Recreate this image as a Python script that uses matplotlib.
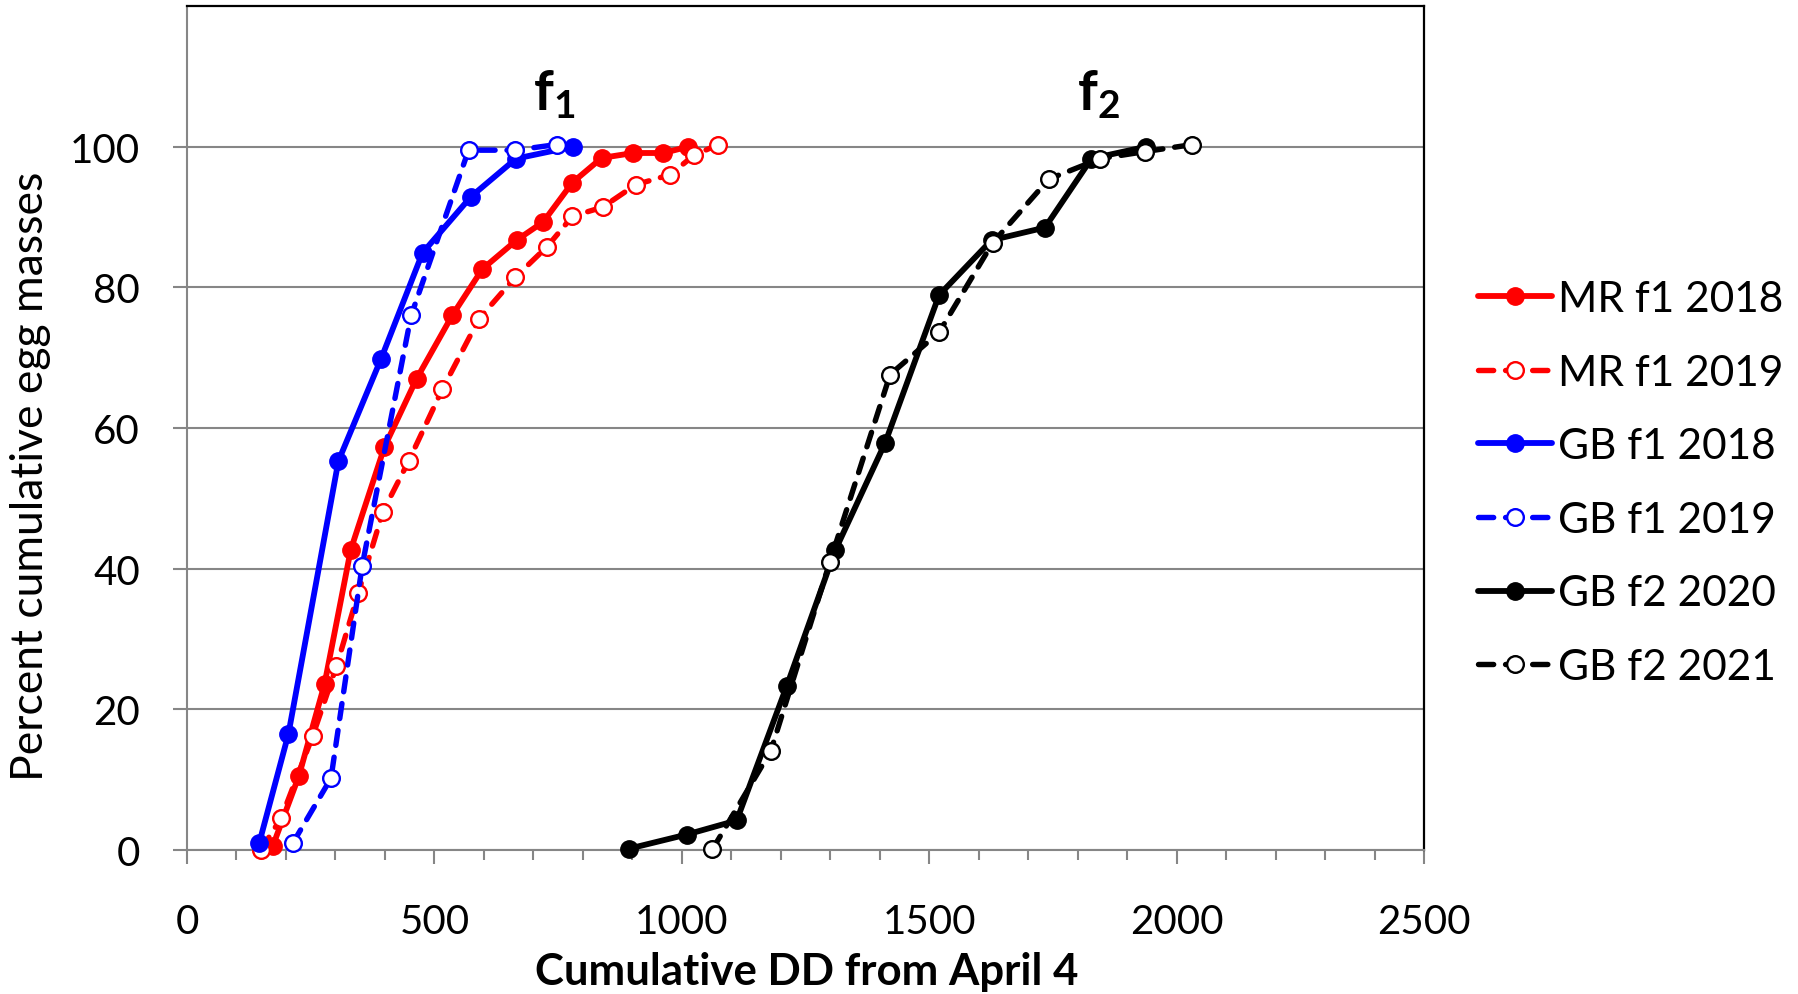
import matplotlib
matplotlib.use("Agg")
import matplotlib.pyplot as plt
from matplotlib.ticker import MultipleLocator

# ---- data ----
mr18_x = [173, 226, 278, 331, 399, 464, 536, 597, 666, 720, 779, 838, 902, 963, 1013]
mr18_y = [0.5, 10.5, 23.6, 42.7, 57.3, 67.0, 76.0, 82.6, 86.7, 89.3, 94.9, 98.4, 99.1, 99.1, 100]

mr19_x = [149, 190, 254, 302, 346, 396, 448, 516, 590, 663, 728, 779, 840, 907, 976, 1025, 1074]
mr19_y = [0, 4.5, 16.2, 26.1, 36.5, 48.1, 55.3, 65.5, 75.5, 81.4, 85.8, 90.1, 91.4, 94.6, 96.0, 98.8, 100.3]

gb18_x = [146, 205, 306, 392, 476, 574, 665, 780]
gb18_y = [1, 16.5, 55.3, 69.8, 84.9, 92.9, 98.3, 100]

gb19_x = [214, 291, 354, 453, 569, 663, 747]
gb19_y = [1, 10.2, 40.4, 76.0, 99.5, 99.5, 100.3]

gb20_x = [894, 1010, 1111, 1212, 1310, 1411, 1520, 1626, 1734, 1828, 1939]
gb20_y = [0.2, 2.2, 4.2, 23.3, 42.6, 57.9, 78.9, 86.7, 88.5, 98.3, 100]

gb21_x = [1062, 1180, 1299, 1421, 1520, 1628, 1742, 1846, 1936, 2032]
gb21_y = [0.1, 14.1, 40.9, 67.6, 73.6, 86.3, 95.4, 98.3, 99.3, 100.3]

labels = ["MR f1 2018", "MR f1 2019", "GB f1 2018", "GB f1 2019", "GB f2 2020", "GB f2 2021"]
x_ticks = [0, 500, 1000, 1500, 2000, 2500]
y_ticks = [0, 20, 40, 60, 80, 100]

plt.rcParams['font.family'] = ['Lato', 'DejaVu Sans']
plt.rcParams['mathtext.fontset'] = 'custom'
plt.rcParams['mathtext.rm'] = 'Lato:bold'
plt.rcParams['mathtext.bf'] = 'Lato:bold'
plt.rcParams['mathtext.it'] = 'Lato:bold'

W, H = 1798, 995
fig = plt.figure(figsize=(W / 100, H / 100), dpi=100)
L, R, B, T = 187, 1424, 851, 7
ax = fig.add_axes([L / W, 1 - B / H, (R - L) / W, (B - T) / H])

GRAY = '#868686'
series = [
    (mr18_x, mr18_y, 'red', True),
    (mr19_x, mr19_y, 'red', False),
    (gb18_x, gb18_y, 'blue', True),
    (gb19_x, gb19_y, 'blue', False),
    (gb20_x, gb20_y, 'black', True),
    (gb21_x, gb21_y, 'black', False),
]
handles = []
for (xs, ys, c, filled), lab in zip(series, labels):
    if filled:
        h, = ax.plot(xs, ys, '-', color=c, lw=4.2, marker='o', ms=12.5,
                     mfc=c, mec=c, solid_capstyle='round', clip_on=False,
                     zorder=3, label=lab)
    else:
        h, = ax.plot(xs, ys, color=c, lw=3.9, ls=(0, (2.8, 2.2)), marker='o',
                     ms=12, mfc='white', mec=c, mew=1.7, dash_capstyle='round',
                     clip_on=False, zorder=3, label=lab)
    handles.append(h)

ax.set_xlim(0, 2500)
ax.set_ylim(0, 120)
ax.set_xticks(x_ticks)
ax.set_yticks(y_ticks)
ax.xaxis.set_minor_locator(MultipleLocator(100))
ax.yaxis.grid(True, color=GRAY, lw=1.5, zorder=1)
ax.set_axisbelow(True)

for s in ['left', 'bottom']:
    ax.spines[s].set_color(GRAY)
    ax.spines[s].set_linewidth(1.5)
for s in ['top', 'right']:
    ax.spines[s].set_color('black')
    ax.spines[s].set_linewidth(1.6)

ax.tick_params(axis='both', which='both', direction='out', colors=GRAY,
               labelcolor='black', labelsize=29, width=1.5)
ax.tick_params(axis='x', which='major', length=10, pad=28)
ax.tick_params(axis='x', which='minor', length=7)
ax.tick_params(axis='y', which='major', length=10, pad=24)

ax.set_xlabel("Cumulative DD from April 4", fontsize=31.5, fontweight='bold')
ax.xaxis.set_label_coords((807 - L) / (R - L), (B - 972) / (B - T))
ax.xaxis.label.set_va('center')
ax.set_ylabel("Percent cumulative egg masses", fontsize=32)
ax.yaxis.set_label_coords((31 - L) / (R - L), (B - 476) / (B - T))
ax.yaxis.label.set_va('center')

ax.text(742, 107.5, r'$\mathbf{f_1}$', fontsize=40, ha='center', va='center')
ax.text(1842, 107.5, r'$\mathbf{f_2}$', fontsize=40, ha='center', va='center')

leg = fig.legend(handles=handles, labels=labels, loc='upper left',
                 bbox_to_anchor=(1478 / W, 1 - 281 / H), frameon=False,
                 fontsize=30.5, handlelength=1.75, handletextpad=0.15,
                 labelspacing=0.84, borderaxespad=0, borderpad=0)

fig.savefig("out.png", dpi=100)
